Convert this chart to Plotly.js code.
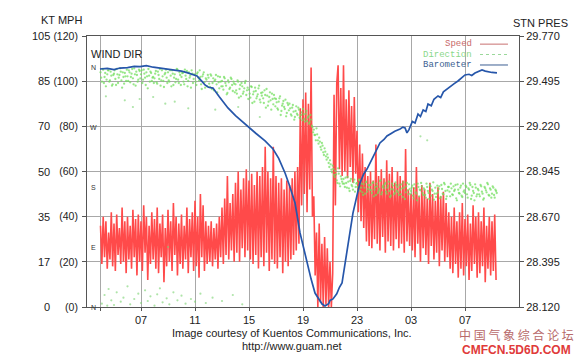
<!DOCTYPE html>
<html>
<head>
<meta charset="utf-8">
<script src="https://cdn.plot.ly/plotly-3.0.1.min.js"></script>
<style>html,body{margin:0;padding:0;background:#fff;}#chart{width:583px;height:357px;}</style>
</head>
<body>
<div id="chart"></div>
<script>
// ---- Time axis (hours since 00:00 of first day) ----
const xTickVals = [4, 7, 11, 15, 19, 23, 27, 31];
const xTickText = ['', '07', '11', '15', '19', '23', '03', '07'];

// ---- Left axis: speed, MPH scale with knots labels ----
const mphTicks = [0, 20, 40, 60, 80, 100, 120];
const mphLabels = ['(0)', '(20)', '(40)', '(60)', '(80)', '(100)', '(120)'];
const ktLabels = ['0', '17', '35', '50', '70', '85', '105'];

// ---- Right axis: station pressure (inHg) ----
const presTicks = [28.120, 28.395, 28.670, 28.945, 29.220, 29.495, 29.770];

// ---- Wind direction labels ----
const dirLabelDeg = [0, 90, 180, 270, 360];
const dirLabels = ['N', 'E', 'S', 'W', 'N'];

// ---- Speed (MPH), sampled every 0.1 h from 04:00 ----
const speedStart = 4.0, speedStep = 0.1;
const speed = [
36,19,40,22,38,17,33,21,42,18,
37,16,41,23,35,19,44,20,38,15,
40,21,36,17,43,22,39,14,41,20,
38,16,45,24,40,12,36,19,42,21,
39,17,44,15,37,22,41,11,35,18,
43,20,38,16,46,23,40,14,37,19,
41,17,36,21,44,15,39,22,42,16,
47,18,40,13,50,22,45,16,38,19,
36,20,38,18,35,21,37,17,40,22,
44,19,48,23,58,21,46,25,50,20,
55,24,60,20,52,26,57,22,61,25,
56,21,59,19,54,23,60,17,58,22,
62,18,71,24,60,16,57,21,71,19,
58,17,55,22,57,15,52,20,56,18,
54,21,57,23,60,25,62,28,88,45,
92,50,95,42,90,52,106,40,49,14,
33,0,37,2,28,0,31,1,26,0,
20,0,15,94,45,99,107,61,97,58,
107,60,92,57,96,62,89,55,93,59,
78,42,72,38,68,35,62,29,58,27,
60,26,56,30,72,28,58,25,61,31,
57,24,65,29,59,27,62,25,55,30,
60,26,58,28,56,24,70,29,52,27,
50,25,53,22,62,28,49,20,54,26,
52,23,48,19,55,27,50,21,47,24,
53,18,49,25,51,20,46,22,42,17,
40,15,44,19,38,13,42,17,46,14,
39,18,41,12,37,16,45,19,40,13,
42,15,38,18,44,11,36,17,40,14,
38,16,41,12
];

// ---- Wind direction (degrees), two interleaved sample sets, every 0.1 h ----
const dirStartA = 4.0, dirStartB = 4.05, dirStep = 0.1;
const directionA = [
352,338,356,345,331,349,355,340,347,334,
350,342,357,336,348,353,329,345,351,339,
346,355,337,350,343,358,332,348,341,354,
349,336,356,344,352,328,347,353,339,345,
343,354,335,348,357,340,346,330,351,344,
352,338,347,355,333,349,342,356,336,348,
345,351,334,347,354,339,344,329,350,342,
348,333,352,340,345,327,349,337,343,331,
344,330,347,336,325,341,334,346,328,338,
339,326,343,332,321,337,329,342,324,335,
334,320,338,327,316,331,323,336,318,329,
326,314,330,319,308,324,316,328,311,321,
322,306,318,327,302,315,310,320,304,313,
312,298,308,316,294,305,300,311,291,303,
305,289,299,293,285,301,288,296,283,292,
297,282,290,279,286,277,281,270,266,258,
268,250,254,240,246,232,238,226,229,216,
220,206,212,198,204,190,208,185,196,188,
192,180,186,195,178,189,183,176,191,180,
186,175,190,179,172,184,170,188,177,182,
183,171,187,176,168,181,174,189,169,180,
178,186,170,182,174,167,185,176,171,183,
180,168,176,184,165,179,172,186,169,177,
174,182,163,178,170,185,166,175,181,168,
176,164,180,171,183,167,174,161,179,170,
172,181,165,177,169,184,162,175,180,166,
178,168,174,183,160,176,170,182,165,173,
171,180,164,176,183,167,174,160,179,169,
175,166,181,170,163,178,172,184,167,176,
170,179,164,174
];
const directionB = [
344,357,336,351,341,355,338,353,332,348,
355,333,349,344,358,340,352,335,346,356,
339,352,345,357,334,349,353,338,356,343,
355,341,350,333,346,357,338,351,344,336,
350,337,353,342,332,355,339,349,356,336,
340,355,331,350,344,337,357,341,352,333,
351,338,356,342,331,352,347,355,336,349,
338,350,344,355,334,346,352,329,341,348,
335,349,327,343,339,348,322,337,345,331,
331,345,336,319,340,327,344,333,338,322,
325,340,314,333,336,320,328,339,325,312,
320,331,306,323,329,313,319,332,307,317,
313,325,299,317,308,322,296,312,318,301,
307,296,313,288,302,309,297,286,306,295,
298,287,303,281,294,290,299,284,288,280,
289,278,294,284,275,288,272,262,258,250,
259,245,248,236,242,228,233,221,224,210,
214,202,207,195,199,186,200,181,192,185,
185,194,179,188,174,192,181,187,173,185,
180,191,174,185,168,179,187,173,183,176,
175,186,166,180,185,171,177,190,172,182,
184,173,179,188,165,177,182,169,187,174,
172,183,169,178,187,162,181,175,184,170,
179,167,184,172,160,180,176,186,171,178,
168,185,174,162,181,176,187,170,165,182,
177,163,183,170,186,174,166,180,173,185,
169,181,176,163,184,171,179,167,185,175,
182,169,178,186,162,180,171,184,166,177,
169,183,173,161,180,175,186,168,178,164,
181,168,176,171
];

// ---- Stray direction readings (wrapping past north, scattered) ----
const strayHour = [4.1,4.3,4.5,4.6,4.8,5.0,5.2,5.5,5.7,6.0,6.2,6.5,6.8,7.0,7.3,7.5,7.7,8.0,8.2,8.4,8.6,8.9,9.1,9.4,9.7,10.0,10.3,10.7,11.0,11.4,11.8,12.3,13.0,13.8,14.5,9.0,6.4,8.8,10.5,12.5,14.2,27.7,28.2,15.8,5.8,7.9,4.4,6.9,9.5];
const strayDeg  = [5,18,2,27,10,3,22,8,14,31,4,12,20,6,25,9,16,2,19,28,7,13,4,22,10,17,5,12,8,20,6,14,9,18,4,90,300,305,298,296,300,256,250,285,310,315,316,312,308];

// ---- Barometer (inHg) ----
const presHour = [3.96,4.5,5.0,5.44,6.0,6.5,6.93,7.4,7.9,8.41,9.0,9.6,10.0,10.41,10.8,11.15,11.5,11.74,12.0,12.33,12.8,13.44,14.0,14.5,14.93,15.5,16.19,16.78,17.2,17.67,18.0,18.41,18.78,19.3,19.6,19.89,20.2,20.41,20.63,20.9,21.0,21.22,21.5,21.7,21.89,22.1,22.26,22.5,22.7,23.0,23.22,23.5,23.74,24.11,24.4,24.7,25.0,25.22,25.5,25.8,26.19,26.4,26.56,26.7,26.85,27.1,27.3,27.52,27.7,27.9,28.1,28.26,28.5,28.7,29.0,29.2,29.4,29.74,30.0,30.2,30.48,30.7,31.0,31.3,31.5,31.74,32.0,32.26,32.5,32.7,33.0,33.37];
const pressure = [29.569,29.573,29.566,29.575,29.578,29.585,29.583,29.589,29.580,29.575,29.568,29.560,29.556,29.547,29.538,29.527,29.495,29.472,29.458,29.453,29.400,29.332,29.285,29.248,29.216,29.178,29.131,29.082,29.025,28.936,28.860,28.753,28.571,28.388,28.290,28.205,28.160,28.138,28.126,28.140,28.160,28.169,28.200,28.240,28.266,28.380,28.473,28.600,28.692,28.800,28.875,28.930,28.960,29.021,29.070,29.119,29.140,29.161,29.175,29.190,29.204,29.215,29.210,29.180,29.200,29.250,29.240,29.295,29.280,29.320,29.310,29.356,29.345,29.385,29.405,29.395,29.430,29.453,29.465,29.480,29.496,29.510,29.533,29.537,29.530,29.545,29.555,29.563,29.556,29.551,29.548,29.545];

const AR = 'Arial, "Liberation Sans", sans-serif';
const MONO = '"Liberation Mono", "DejaVu Sans Mono", monospace';

const dirMarker = {color:'rgba(112,222,92,0.72)', size:2.3};
const traces = [
  {type:'scatter', mode:'lines', x0:speedStart, dx:speedStep, y:speed,
   line:{color:'#ff4a4a', width:1.6}, xaxis:'x', yaxis:'y', hoverinfo:'skip'},
  {type:'scatter', mode:'markers', x0:dirStartA, dx:dirStep, y:directionA,
   marker:dirMarker, xaxis:'x', yaxis:'y2', hoverinfo:'skip'},
  {type:'scatter', mode:'markers', x0:dirStartB, dx:dirStep, y:directionB,
   marker:dirMarker, xaxis:'x', yaxis:'y2', hoverinfo:'skip'},
  {type:'scatter', mode:'markers', x:strayHour, y:strayDeg,
   marker:{color:'rgba(120,210,110,0.6)', size:2.2}, xaxis:'x', yaxis:'y2', hoverinfo:'skip'},
  {type:'scatter', mode:'lines', x:presHour, y:pressure,
   line:{color:'#2656aa', width:1.7}, xaxis:'x', yaxis:'y3', hoverinfo:'skip'}
];

const annotations = [];
mphTicks.forEach((v, i) => annotations.push({
  xref:'paper', yref:'y', x:-0.081, y:v, xanchor:'right', yanchor:'middle',
  text:ktLabels[i], showarrow:false, font:{family:AR, size:11, color:'#222'}
}));
dirLabelDeg.forEach((d, i) => annotations.push({
  xref:'paper', yref:'y2', x:0.016, y:d, xanchor:'center', yanchor:'middle',
  text:dirLabels[i], showarrow:false, font:{family:AR, size:7, color:'#333'}
}));
annotations.push(
  {xref:'paper', yref:'paper', x:-0.06, y:1.059, text:'KT MPH', showarrow:false, xanchor:'center', yanchor:'middle', font:{family:AR, size:11, color:'#222'}},
  {xref:'paper', yref:'paper', x:1.049, y:1.048, text:'STN PRES', showarrow:false, xanchor:'center', yanchor:'middle', font:{family:AR, size:11, color:'#222'}},
  {xref:'paper', yref:'paper', x:0.004, y:0.934, text:'WIND DIR', showarrow:false, xanchor:'left', yanchor:'middle', font:{family:AR, size:11, color:'#222'}},
  {xref:'paper', yref:'paper', x:0.8935, y:0.970, text:'Speed', showarrow:false, xanchor:'right', yanchor:'middle', borderpad:0, font:{family:MONO, size:9, color:'#c86a6a'}},
  {xref:'paper', yref:'paper', x:0.8935, y:0.9317, text:'Direction', showarrow:false, xanchor:'right', yanchor:'middle', borderpad:0, font:{family:MONO, size:9, color:'#8ad88a'}},
  {xref:'paper', yref:'paper', x:0.8935, y:0.8930, text:'Barometer', showarrow:false, xanchor:'right', yanchor:'middle', borderpad:0, font:{family:MONO, size:9, color:'#3d5f92'}},
  {xref:'paper', yref:'paper', x:0.4745, y:-0.096, text:'Image courtesy of Kuentos Communications, Inc.', showarrow:false, xanchor:'center', yanchor:'middle', font:{family:AR, size:11, color:'#222'}},
  {xref:'paper', yref:'paper', x:0.4745, y:-0.144, text:'http://www.guam.net', showarrow:false, xanchor:'center', yanchor:'middle', font:{family:AR, size:11, color:'#222'}},
  {xref:'paper', yref:'paper', x:0.995, y:-0.0997, text:'中 国 气 象 综 合 论 坛', showarrow:false, xanchor:'center', yanchor:'middle', borderpad:0, font:{family:'"Noto Sans CJK SC"', size:12, color:'#b86a6a'}},
  {xref:'paper', yref:'paper', x:0.995, y:-0.1587, text:'<b>CMFCN.5D6D.COM</b>', showarrow:false, xanchor:'center', yanchor:'middle', borderpad:0, font:{family:AR, size:12, color:'#e03a3a'}}
);

const shapes = [
  {type:'line', xref:'paper', yref:'paper', x0:0.9097, x1:0.9745, y0:0.970, y1:0.970, line:{color:'#c87070', width:1}},
  {type:'line', xref:'paper', yref:'paper', x0:0.9097, x1:0.9745, y0:0.9317, y1:0.9317, line:{color:'#9ad89a', width:1, dash:'dot'}},
  {type:'line', xref:'paper', yref:'paper', x0:0.9097, x1:0.9745, y0:0.8930, y1:0.8930, line:{color:'#3d5f92', width:1}}
];

const layout = {
  width:583, height:357,
  margin:{l:87, r:64, t:36, b:50, pad:0},
  paper_bgcolor:'#fff', plot_bgcolor:'#fff',
  showlegend:false,
  font:{family:AR, size:11, color:'#222'},
  xaxis:{range:[3,35], tickvals:xTickVals, ticktext:xTickText, showgrid:true, gridcolor:'#a8a8a8', gridwidth:1,
         showline:true, linecolor:'#555', linewidth:1, mirror:true, ticks:'outside', ticklen:3, tickcolor:'#555',
         zeroline:false, tickfont:{family:AR, size:11, color:'#222'}},
  yaxis:{range:[0,120], tickvals:mphTicks, ticktext:mphLabels, showgrid:true, gridcolor:'#a8a8a8', gridwidth:1,
         showline:true, linecolor:'#555', linewidth:1, mirror:true, ticks:'outside', ticklen:4, tickcolor:'#555',
         ticklabelstandoff:2, zeroline:false, tickfont:{family:AR, size:10.5, color:'#222'}},
  yaxis2:{overlaying:'y', range:[0,406.5], visible:false, showgrid:false, zeroline:false},
  yaxis3:{overlaying:'y', side:'right', range:[28.12,29.77], tickvals:presTicks, tickformat:'.3f', showgrid:false,
          zeroline:false, showline:false, ticks:'outside', ticklen:4, tickcolor:'#555',
          tickfont:{family:AR, size:11, color:'#222'}},
  annotations:annotations,
  shapes:shapes
};

Plotly.newPlot('chart', traces, layout, {staticPlot:true, displayModeBar:false});
</script>
</body>
</html>
